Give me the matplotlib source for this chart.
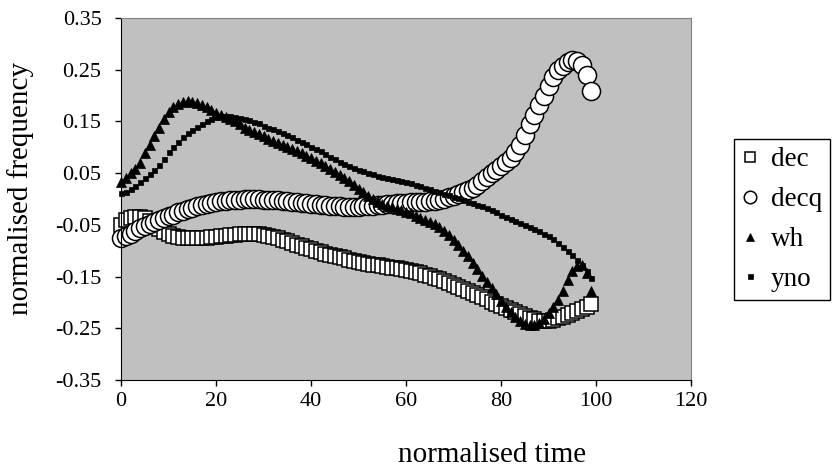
import numpy as np
import matplotlib
matplotlib.use('Agg')
import matplotlib.pyplot as plt
from matplotlib.ticker import FormatStrFormatter

plt.rcParams['font.family'] = ['Liberation Serif', 'DejaVu Serif']
plt.rcParams['axes.unicode_minus'] = False

# normalised time: one sample per unit
t = np.arange(100)

dec = [-0.050, -0.040, -0.036, -0.035, -0.035, -0.037, -0.042, -0.050, -0.058, -0.064,
       -0.068, -0.071, -0.073, -0.075, -0.076, -0.076, -0.076, -0.076, -0.075, -0.074,
       -0.073, -0.072, -0.071, -0.070, -0.069, -0.068, -0.067, -0.067, -0.067, -0.068,
       -0.069, -0.071, -0.073, -0.076, -0.079, -0.082, -0.085, -0.088, -0.091, -0.094,
       -0.097, -0.100, -0.103, -0.106, -0.108, -0.110, -0.112, -0.115, -0.117, -0.119,
       -0.121, -0.123, -0.125, -0.127, -0.128, -0.130, -0.131, -0.133, -0.134, -0.135,
       -0.137, -0.139, -0.141, -0.143, -0.146, -0.149, -0.152, -0.155, -0.159, -0.162,
       -0.166, -0.170, -0.174, -0.178, -0.182, -0.186, -0.190, -0.194, -0.199, -0.203,
       -0.207, -0.211, -0.215, -0.219, -0.223, -0.227, -0.230, -0.233, -0.235, -0.236,
       -0.236, -0.234, -0.231, -0.228, -0.224, -0.220, -0.216, -0.212, -0.208, -0.203]

decq = [-0.076, -0.072, -0.067, -0.062, -0.057, -0.053, -0.049, -0.045, -0.041, -0.037,
        -0.033, -0.030, -0.026, -0.023, -0.020, -0.017, -0.014, -0.012, -0.010, -0.008,
        -0.006, -0.004, -0.003, -0.002, -0.001, -0.001, 0.000, 0.000, 0.000, 0.000,
        -0.001, -0.001, -0.002, -0.002, -0.003, -0.004, -0.005, -0.006, -0.007, -0.008,
        -0.009, -0.010, -0.011, -0.012, -0.013, -0.014, -0.014, -0.015, -0.015, -0.015,
        -0.015, -0.014, -0.013, -0.013, -0.012, -0.011, -0.010, -0.009, -0.008, -0.007,
        -0.007, -0.006, -0.006, -0.005, -0.005, -0.004, -0.003, -0.002, 0.000, 0.003,
        0.006, 0.009, 0.013, 0.017, 0.022, 0.028, 0.035, 0.043, 0.051, 0.057,
        0.063, 0.071, 0.080, 0.091, 0.105, 0.123, 0.145, 0.163, 0.182, 0.200,
        0.218, 0.235, 0.249, 0.258, 0.265, 0.268, 0.267, 0.260, 0.240, 0.208]

wh = [0.033, 0.040, 0.050, 0.058, 0.070, 0.088, 0.104, 0.122, 0.138, 0.155,
      0.168, 0.177, 0.183, 0.187, 0.189, 0.188, 0.186, 0.182, 0.177, 0.172,
      0.167, 0.163, 0.158, 0.154, 0.150, 0.145, 0.138, 0.134, 0.130, 0.126,
      0.121, 0.116, 0.112, 0.108, 0.104, 0.100, 0.096, 0.092, 0.088, 0.083,
      0.079, 0.074, 0.069, 0.063, 0.058, 0.052, 0.046, 0.040, 0.034, 0.027,
      0.020, 0.013, 0.006, 0.000, -0.005, -0.009, -0.013, -0.016, -0.019, -0.022,
      -0.025, -0.028, -0.032, -0.036, -0.040, -0.044, -0.049, -0.055, -0.062, -0.070,
      -0.079, -0.089, -0.100, -0.111, -0.123, -0.135, -0.148, -0.160, -0.172, -0.184,
      -0.197, -0.208, -0.219, -0.228, -0.236, -0.241, -0.244, -0.244, -0.240, -0.232,
      -0.221, -0.208, -0.195, -0.178, -0.157, -0.140, -0.130, -0.128, -0.143, -0.178]

yno = [0.012, 0.014, 0.019, 0.025, 0.032, 0.040, 0.048, 0.056, 0.066, 0.078,
       0.090, 0.100, 0.110, 0.119, 0.127, 0.134, 0.140, 0.145, 0.150, 0.154,
       0.158, 0.160, 0.161, 0.160, 0.159, 0.157, 0.155, 0.152, 0.149, 0.146,
       0.142, 0.138, 0.135, 0.131, 0.127, 0.123, 0.119, 0.114, 0.110, 0.106,
       0.101, 0.096, 0.092, 0.087, 0.082, 0.077, 0.072, 0.068, 0.064, 0.060,
       0.057, 0.054, 0.051, 0.048, 0.045, 0.043, 0.041, 0.039, 0.037, 0.035,
       0.032, 0.030, 0.028, 0.025, 0.022, 0.019, 0.016, 0.013, 0.010, 0.007,
       0.004, 0.001, -0.002, -0.005, -0.008, -0.011, -0.014, -0.018, -0.022, -0.026,
       -0.030, -0.034, -0.038, -0.042, -0.046, -0.050, -0.054, -0.058, -0.062, -0.067,
       -0.072, -0.078, -0.085, -0.092, -0.100, -0.108, -0.117, -0.127, -0.140, -0.153]

xticks = [0, 20, 40, 60, 80, 100, 120]
yticks = [-0.35, -0.25, -0.15, -0.05, 0.05, 0.15, 0.25, 0.35]

fig = plt.figure(figsize=(8.34, 4.68), dpi=100)
ax = fig.add_axes([121/834, 1 - 380/468, 570/834, 362/468])
ax.set_facecolor('#c0c0c0')

ax.plot(t, dec, ls='none', marker='s', ms=10.5, mfc='white', mec='black', mew=1.1,
        clip_on=False, label='dec')
ax.plot(t, decq, ls='none', marker='o', ms=13, mfc='white', mec='black', mew=1.1,
        clip_on=False, label='decq')
ax.plot(t, wh, ls='none', marker='^', ms=6.5, mfc='black', mec='black', mew=0.5,
        clip_on=False, label='wh')
ax.plot(t, yno, ls='none', marker='s', ms=3.6, mfc='black', mec='black', mew=0.5,
        clip_on=False, label='yno')

ax.set_xlim(0, 120)
ax.set_ylim(-0.35, 0.35)
ax.set_xticks(xticks)
ax.set_yticks(yticks)
ax.yaxis.set_major_formatter(FormatStrFormatter('%.2f'))
ax.tick_params(direction='out', length=4, width=1, labelsize=16)
ax.tick_params(axis='x', pad=4.5)
ax.tick_params(axis='y', pad=10)

for side in ['top', 'right']:
    ax.spines[side].set_color('#808080')
for side in ['left', 'bottom']:
    ax.spines[side].set_color('black')

ax.set_xlabel('normalised time', fontsize=21)
ax.xaxis.set_label_coords((492 - 121) / 570, -0.17)
ax.set_ylabel('normalised frequency', fontsize=21)
ax.yaxis.set_label_coords(-0.153, 0.528)

leg = ax.legend(loc='lower left', bbox_to_anchor=(734/834, 1 - 300/468),
                bbox_transform=fig.transFigure, fontsize=19.5, frameon=True,
                fancybox=False, edgecolor='black', framealpha=1, borderaxespad=0,
                handlelength=0.6, handletextpad=0.45, labelspacing=0.55, borderpad=0.3)
leg.get_frame().set_linewidth(1.0)
for h, s in zip(leg.legend_handles, [7.5, 9, 5.5, 3.6]):
    h.set_markersize(s)

fig.savefig('out.png', dpi=100)
